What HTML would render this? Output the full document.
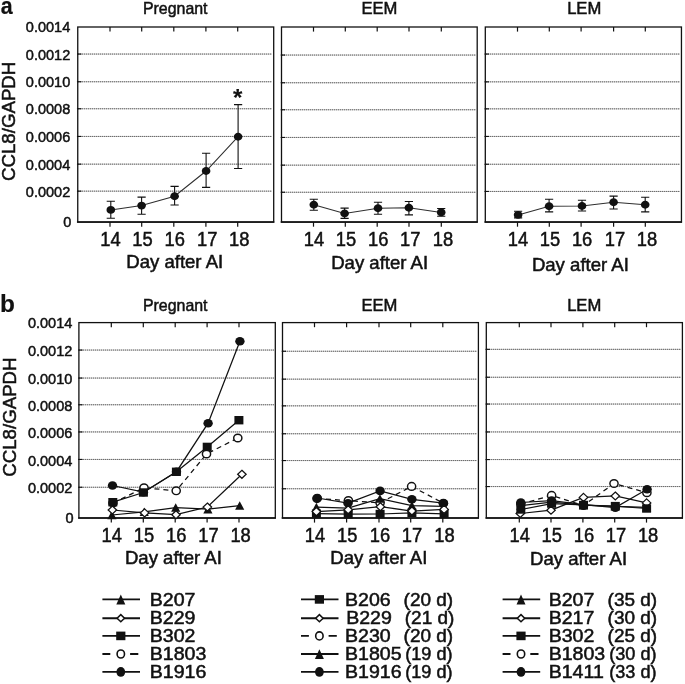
<!DOCTYPE html>
<html><head><meta charset="utf-8"><title>CCL8/GAPDH</title>
<style>
html,body{margin:0;padding:0;background:#fff;}
body{width:685px;height:684px;overflow:hidden;font-family:"Liberation Sans", sans-serif;}
svg{display:block;will-change:transform;filter:grayscale(1);font-family:"Liberation Sans", sans-serif;fill:#111111;}
text{stroke:#111111;stroke-width:0.5px;}
</style></head><body>
<svg width="685" height="684" viewBox="0 0 685 684">
<rect width="685" height="684" fill="#fff"/>
<line x1="78" y1="54.05" x2="272" y2="54.05" stroke="#b8b8b8" stroke-width="1"/>
<line x1="78" y1="54.05" x2="272" y2="54.05" stroke="#6a6a6a" stroke-width="1" stroke-dasharray="1 1"/>
<line x1="76.95" y1="54.05" x2="81.35" y2="54.05" stroke="#111111" stroke-width="1.1"/>
<line x1="78" y1="81.75" x2="272" y2="81.75" stroke="#b8b8b8" stroke-width="1"/>
<line x1="78" y1="81.75" x2="272" y2="81.75" stroke="#6a6a6a" stroke-width="1" stroke-dasharray="1 1"/>
<line x1="76.95" y1="81.75" x2="81.35" y2="81.75" stroke="#111111" stroke-width="1.1"/>
<line x1="78" y1="108.75" x2="272" y2="108.75" stroke="#b8b8b8" stroke-width="1"/>
<line x1="78" y1="108.75" x2="272" y2="108.75" stroke="#6a6a6a" stroke-width="1" stroke-dasharray="1 1"/>
<line x1="76.95" y1="108.75" x2="81.35" y2="108.75" stroke="#111111" stroke-width="1.1"/>
<line x1="78" y1="136.45" x2="272" y2="136.45" stroke="#b8b8b8" stroke-width="1"/>
<line x1="78" y1="136.45" x2="272" y2="136.45" stroke="#6a6a6a" stroke-width="1" stroke-dasharray="1 1"/>
<line x1="76.95" y1="136.45" x2="81.35" y2="136.45" stroke="#111111" stroke-width="1.1"/>
<line x1="78" y1="164.15" x2="272" y2="164.15" stroke="#b8b8b8" stroke-width="1"/>
<line x1="78" y1="164.15" x2="272" y2="164.15" stroke="#6a6a6a" stroke-width="1" stroke-dasharray="1 1"/>
<line x1="76.95" y1="164.15" x2="81.35" y2="164.15" stroke="#111111" stroke-width="1.1"/>
<line x1="78" y1="191.15" x2="272" y2="191.15" stroke="#b8b8b8" stroke-width="1"/>
<line x1="78" y1="191.15" x2="272" y2="191.15" stroke="#6a6a6a" stroke-width="1" stroke-dasharray="1 1"/>
<line x1="76.95" y1="191.15" x2="81.35" y2="191.15" stroke="#111111" stroke-width="1.1"/>
<rect x="77.75" y="27" width="195.95" height="195.1" fill="none" stroke="#111111" stroke-width="1.3"/>
<line x1="76.95" y1="222.1" x2="274.3" y2="222.1" stroke="#111111" stroke-width="1.5"/>
<line x1="110" y1="27" x2="110" y2="31.6" stroke="#111111" stroke-width="1.2"/>
<line x1="110" y1="222.1" x2="110" y2="226.7" stroke="#111111" stroke-width="1.2"/>
<line x1="141.7" y1="27" x2="141.7" y2="31.6" stroke="#111111" stroke-width="1.2"/>
<line x1="141.7" y1="222.1" x2="141.7" y2="226.7" stroke="#111111" stroke-width="1.2"/>
<line x1="173.8" y1="27" x2="173.8" y2="31.6" stroke="#111111" stroke-width="1.2"/>
<line x1="173.8" y1="222.1" x2="173.8" y2="226.7" stroke="#111111" stroke-width="1.2"/>
<line x1="205.9" y1="27" x2="205.9" y2="31.6" stroke="#111111" stroke-width="1.2"/>
<line x1="205.9" y1="222.1" x2="205.9" y2="226.7" stroke="#111111" stroke-width="1.2"/>
<line x1="237.7" y1="27" x2="237.7" y2="31.6" stroke="#111111" stroke-width="1.2"/>
<line x1="237.7" y1="222.1" x2="237.7" y2="226.7" stroke="#111111" stroke-width="1.2"/>
<line x1="282" y1="55.05" x2="476" y2="55.05" stroke="#b8b8b8" stroke-width="1"/>
<line x1="282" y1="55.05" x2="476" y2="55.05" stroke="#6a6a6a" stroke-width="1" stroke-dasharray="1 1"/>
<line x1="280.7" y1="55.05" x2="285.1" y2="55.05" stroke="#111111" stroke-width="1.1"/>
<line x1="282" y1="82.75" x2="476" y2="82.75" stroke="#b8b8b8" stroke-width="1"/>
<line x1="282" y1="82.75" x2="476" y2="82.75" stroke="#6a6a6a" stroke-width="1" stroke-dasharray="1 1"/>
<line x1="280.7" y1="82.75" x2="285.1" y2="82.75" stroke="#111111" stroke-width="1.1"/>
<line x1="282" y1="109.75" x2="476" y2="109.75" stroke="#b8b8b8" stroke-width="1"/>
<line x1="282" y1="109.75" x2="476" y2="109.75" stroke="#6a6a6a" stroke-width="1" stroke-dasharray="1 1"/>
<line x1="280.7" y1="109.75" x2="285.1" y2="109.75" stroke="#111111" stroke-width="1.1"/>
<line x1="282" y1="137.45" x2="476" y2="137.45" stroke="#b8b8b8" stroke-width="1"/>
<line x1="282" y1="137.45" x2="476" y2="137.45" stroke="#6a6a6a" stroke-width="1" stroke-dasharray="1 1"/>
<line x1="280.7" y1="137.45" x2="285.1" y2="137.45" stroke="#111111" stroke-width="1.1"/>
<line x1="282" y1="165.15" x2="476" y2="165.15" stroke="#b8b8b8" stroke-width="1"/>
<line x1="282" y1="165.15" x2="476" y2="165.15" stroke="#6a6a6a" stroke-width="1" stroke-dasharray="1 1"/>
<line x1="280.7" y1="165.15" x2="285.1" y2="165.15" stroke="#111111" stroke-width="1.1"/>
<line x1="282" y1="192.25" x2="476" y2="192.25" stroke="#b8b8b8" stroke-width="1"/>
<line x1="282" y1="192.25" x2="476" y2="192.25" stroke="#6a6a6a" stroke-width="1" stroke-dasharray="1 1"/>
<line x1="280.7" y1="192.25" x2="285.1" y2="192.25" stroke="#111111" stroke-width="1.1"/>
<rect x="281.5" y="27" width="195.7" height="195.1" fill="none" stroke="#111111" stroke-width="1.3"/>
<line x1="280.7" y1="222.1" x2="477.8" y2="222.1" stroke="#111111" stroke-width="1.5"/>
<line x1="313.5" y1="27" x2="313.5" y2="31.6" stroke="#111111" stroke-width="1.2"/>
<line x1="313.5" y1="222.1" x2="313.5" y2="226.7" stroke="#111111" stroke-width="1.2"/>
<line x1="345.3" y1="27" x2="345.3" y2="31.6" stroke="#111111" stroke-width="1.2"/>
<line x1="345.3" y1="222.1" x2="345.3" y2="226.7" stroke="#111111" stroke-width="1.2"/>
<line x1="377.2" y1="27" x2="377.2" y2="31.6" stroke="#111111" stroke-width="1.2"/>
<line x1="377.2" y1="222.1" x2="377.2" y2="226.7" stroke="#111111" stroke-width="1.2"/>
<line x1="409" y1="27" x2="409" y2="31.6" stroke="#111111" stroke-width="1.2"/>
<line x1="409" y1="222.1" x2="409" y2="226.7" stroke="#111111" stroke-width="1.2"/>
<line x1="441.3" y1="27" x2="441.3" y2="31.6" stroke="#111111" stroke-width="1.2"/>
<line x1="441.3" y1="222.1" x2="441.3" y2="226.7" stroke="#111111" stroke-width="1.2"/>
<line x1="486" y1="54.05" x2="680" y2="54.05" stroke="#b8b8b8" stroke-width="1"/>
<line x1="486" y1="54.05" x2="680" y2="54.05" stroke="#6a6a6a" stroke-width="1" stroke-dasharray="1 1"/>
<line x1="484.5" y1="54.05" x2="488.9" y2="54.05" stroke="#111111" stroke-width="1.1"/>
<line x1="486" y1="81.85" x2="680" y2="81.85" stroke="#b8b8b8" stroke-width="1"/>
<line x1="486" y1="81.85" x2="680" y2="81.85" stroke="#6a6a6a" stroke-width="1" stroke-dasharray="1 1"/>
<line x1="484.5" y1="81.85" x2="488.9" y2="81.85" stroke="#111111" stroke-width="1.1"/>
<line x1="486" y1="108.85" x2="680" y2="108.85" stroke="#b8b8b8" stroke-width="1"/>
<line x1="486" y1="108.85" x2="680" y2="108.85" stroke="#6a6a6a" stroke-width="1" stroke-dasharray="1 1"/>
<line x1="484.5" y1="108.85" x2="488.9" y2="108.85" stroke="#111111" stroke-width="1.1"/>
<line x1="486" y1="136.45" x2="680" y2="136.45" stroke="#b8b8b8" stroke-width="1"/>
<line x1="486" y1="136.45" x2="680" y2="136.45" stroke="#6a6a6a" stroke-width="1" stroke-dasharray="1 1"/>
<line x1="484.5" y1="136.45" x2="488.9" y2="136.45" stroke="#111111" stroke-width="1.1"/>
<line x1="486" y1="164.25" x2="680" y2="164.25" stroke="#b8b8b8" stroke-width="1"/>
<line x1="486" y1="164.25" x2="680" y2="164.25" stroke="#6a6a6a" stroke-width="1" stroke-dasharray="1 1"/>
<line x1="484.5" y1="164.25" x2="488.9" y2="164.25" stroke="#111111" stroke-width="1.1"/>
<line x1="486" y1="191.45" x2="680" y2="191.45" stroke="#b8b8b8" stroke-width="1"/>
<line x1="486" y1="191.45" x2="680" y2="191.45" stroke="#6a6a6a" stroke-width="1" stroke-dasharray="1 1"/>
<line x1="484.5" y1="191.45" x2="488.9" y2="191.45" stroke="#111111" stroke-width="1.1"/>
<rect x="485.3" y="27" width="196.15" height="195.1" fill="none" stroke="#111111" stroke-width="1.3"/>
<line x1="484.5" y1="222.1" x2="682.05" y2="222.1" stroke="#111111" stroke-width="1.5"/>
<line x1="517.5" y1="27" x2="517.5" y2="31.6" stroke="#111111" stroke-width="1.2"/>
<line x1="517.5" y1="222.1" x2="517.5" y2="226.7" stroke="#111111" stroke-width="1.2"/>
<line x1="549.3" y1="27" x2="549.3" y2="31.6" stroke="#111111" stroke-width="1.2"/>
<line x1="549.3" y1="222.1" x2="549.3" y2="226.7" stroke="#111111" stroke-width="1.2"/>
<line x1="581.1" y1="27" x2="581.1" y2="31.6" stroke="#111111" stroke-width="1.2"/>
<line x1="581.1" y1="222.1" x2="581.1" y2="226.7" stroke="#111111" stroke-width="1.2"/>
<line x1="613.6" y1="27" x2="613.6" y2="31.6" stroke="#111111" stroke-width="1.2"/>
<line x1="613.6" y1="222.1" x2="613.6" y2="226.7" stroke="#111111" stroke-width="1.2"/>
<line x1="645.3" y1="27" x2="645.3" y2="31.6" stroke="#111111" stroke-width="1.2"/>
<line x1="645.3" y1="222.1" x2="645.3" y2="226.7" stroke="#111111" stroke-width="1.2"/>
<polyline points="110.8,209.9 141.6,205.6 174.6,196.2 206.1,171 238.1,136.7" fill="none" stroke="#2e2e2e" stroke-width="1.05"/>
<path d="M110.8 201.3V218.2M106.7 201.3H114.9M106.7 218.2H114.9" stroke="#111111" stroke-width="1.1" fill="none"/>
<ellipse cx="110.8" cy="209.9" rx="4.31" ry="3.95" fill="#111111"/>
<path d="M141.6 197.1V214.2M137.5 197.1H145.7M137.5 214.2H145.7" stroke="#111111" stroke-width="1.1" fill="none"/>
<ellipse cx="141.6" cy="205.6" rx="4.31" ry="3.95" fill="#111111"/>
<path d="M174.6 186.4V205M170.5 186.4H178.7M170.5 205H178.7" stroke="#111111" stroke-width="1.1" fill="none"/>
<ellipse cx="174.6" cy="196.2" rx="4.31" ry="3.95" fill="#111111"/>
<path d="M206.1 153.3V187.4M202 153.3H210.2M202 187.4H210.2" stroke="#111111" stroke-width="1.1" fill="none"/>
<ellipse cx="206.1" cy="171" rx="4.31" ry="3.95" fill="#111111"/>
<path d="M238.1 104.6V168.5M234 104.6H242.2M234 168.5H242.2" stroke="#111111" stroke-width="1.1" fill="none"/>
<ellipse cx="238.1" cy="136.7" rx="4.31" ry="3.95" fill="#111111"/>
<polyline points="313.8,204.7 344.6,213.5 378,208.2 408.9,207.7 441.2,212.4" fill="none" stroke="#2e2e2e" stroke-width="1.05"/>
<path d="M313.8 199.3V210.3M309.7 199.3H317.9M309.7 210.3H317.9" stroke="#111111" stroke-width="1.1" fill="none"/>
<ellipse cx="313.8" cy="204.7" rx="4.31" ry="3.95" fill="#111111"/>
<path d="M344.6 208.1V218.4M340.5 208.1H348.7M340.5 218.4H348.7" stroke="#111111" stroke-width="1.1" fill="none"/>
<ellipse cx="344.6" cy="213.5" rx="4.31" ry="3.95" fill="#111111"/>
<path d="M378 202.3V214.2M373.9 202.3H382.1M373.9 214.2H382.1" stroke="#111111" stroke-width="1.1" fill="none"/>
<ellipse cx="378" cy="208.2" rx="4.31" ry="3.95" fill="#111111"/>
<path d="M408.9 201.5V214.9M404.8 201.5H413M404.8 214.9H413" stroke="#111111" stroke-width="1.1" fill="none"/>
<ellipse cx="408.9" cy="207.7" rx="4.31" ry="3.95" fill="#111111"/>
<path d="M441.2 208.5V216.2M437.1 208.5H445.3M437.1 216.2H445.3" stroke="#111111" stroke-width="1.1" fill="none"/>
<ellipse cx="441.2" cy="212.4" rx="4.31" ry="3.95" fill="#111111"/>
<polyline points="518.1,214.9 549.1,206.2 582,206 613.6,202.3 645.2,204.7" fill="none" stroke="#2e2e2e" stroke-width="1.05"/>
<path d="M518.1 211.2V217.9M514 211.2H522.2M514 217.9H522.2" stroke="#111111" stroke-width="1.1" fill="none"/>
<ellipse cx="518.1" cy="214.9" rx="4.31" ry="3.95" fill="#111111"/>
<path d="M549.1 199.3V211.9M545 199.3H553.2M545 211.9H553.2" stroke="#111111" stroke-width="1.1" fill="none"/>
<ellipse cx="549.1" cy="206.2" rx="4.31" ry="3.95" fill="#111111"/>
<path d="M582 200.3V211M577.9 200.3H586.1M577.9 211H586.1" stroke="#111111" stroke-width="1.1" fill="none"/>
<ellipse cx="582" cy="206" rx="4.31" ry="3.95" fill="#111111"/>
<path d="M613.6 196.1V209M609.5 196.1H617.7M609.5 209H617.7" stroke="#111111" stroke-width="1.1" fill="none"/>
<ellipse cx="613.6" cy="202.3" rx="4.31" ry="3.95" fill="#111111"/>
<path d="M645.2 197.3V211.9M641.1 197.3H649.3M641.1 211.9H649.3" stroke="#111111" stroke-width="1.1" fill="none"/>
<ellipse cx="645.2" cy="204.7" rx="4.31" ry="3.95" fill="#111111"/>
<text x="0" y="0" font-size="14.9" text-anchor="end" font-weight="normal" transform="translate(70.25 31.8) scale(0.975 1)">0.0014</text>
<text x="0" y="0" font-size="14.9" text-anchor="end" font-weight="normal" transform="translate(70.25 59.7) scale(0.975 1)">0.0012</text>
<text x="0" y="0" font-size="14.9" text-anchor="end" font-weight="normal" transform="translate(70.25 87.4) scale(0.975 1)">0.0010</text>
<text x="0" y="0" font-size="14.9" text-anchor="end" font-weight="normal" transform="translate(70.25 114.4) scale(0.975 1)">0.0008</text>
<text x="0" y="0" font-size="14.9" text-anchor="end" font-weight="normal" transform="translate(70.25 142.1) scale(0.975 1)">0.0006</text>
<text x="0" y="0" font-size="14.9" text-anchor="end" font-weight="normal" transform="translate(70.25 169.8) scale(0.975 1)">0.0004</text>
<text x="0" y="0" font-size="14.9" text-anchor="end" font-weight="normal" transform="translate(70.25 196.8) scale(0.975 1)">0.0002</text>
<text x="0" y="0" font-size="14.9" text-anchor="end" font-weight="normal" transform="translate(71.45 226.7) scale(0.975 1)">0</text>
<text x="0" y="0" font-size="19.4" text-anchor="middle" font-weight="normal" transform="translate(110.4 246.4) scale(0.945 1)">14</text>
<text x="0" y="0" font-size="19.4" text-anchor="middle" font-weight="normal" transform="translate(142.4 246.4) scale(0.945 1)">15</text>
<text x="0" y="0" font-size="19.4" text-anchor="middle" font-weight="normal" transform="translate(174.8 246.4) scale(0.945 1)">16</text>
<text x="0" y="0" font-size="19.4" text-anchor="middle" font-weight="normal" transform="translate(207.2 246.4) scale(0.945 1)">17</text>
<text x="0" y="0" font-size="19.4" text-anchor="middle" font-weight="normal" transform="translate(239.3 246.4) scale(0.945 1)">18</text>
<text x="0" y="0" font-size="17.7" text-anchor="middle" font-weight="normal" transform="translate(174.72 268.2) scale(1.05 1)">Day after AI</text>
<text x="0" y="0" font-size="19.4" text-anchor="middle" font-weight="normal" transform="translate(313.9 246.4) scale(0.945 1)">14</text>
<text x="0" y="0" font-size="19.4" text-anchor="middle" font-weight="normal" transform="translate(346 246.4) scale(0.945 1)">15</text>
<text x="0" y="0" font-size="19.4" text-anchor="middle" font-weight="normal" transform="translate(378.2 246.4) scale(0.945 1)">16</text>
<text x="0" y="0" font-size="19.4" text-anchor="middle" font-weight="normal" transform="translate(410.3 246.4) scale(0.945 1)">17</text>
<text x="0" y="0" font-size="19.4" text-anchor="middle" font-weight="normal" transform="translate(442.9 246.4) scale(0.945 1)">18</text>
<text x="0" y="0" font-size="17.7" text-anchor="middle" font-weight="normal" transform="translate(379.65 268.8) scale(1.05 1)">Day after AI</text>
<text x="0" y="0" font-size="19.4" text-anchor="middle" font-weight="normal" transform="translate(517.9 246.4) scale(0.945 1)">14</text>
<text x="0" y="0" font-size="19.4" text-anchor="middle" font-weight="normal" transform="translate(550 246.4) scale(0.945 1)">15</text>
<text x="0" y="0" font-size="19.4" text-anchor="middle" font-weight="normal" transform="translate(582.1 246.4) scale(0.945 1)">16</text>
<text x="0" y="0" font-size="19.4" text-anchor="middle" font-weight="normal" transform="translate(614.9 246.4) scale(0.945 1)">17</text>
<text x="0" y="0" font-size="19.4" text-anchor="middle" font-weight="normal" transform="translate(646.9 246.4) scale(0.945 1)">18</text>
<text x="0" y="0" font-size="17.7" text-anchor="middle" font-weight="normal" transform="translate(580.38 271) scale(1.05 1)">Day after AI</text>
<text x="0" y="0" font-size="16.6" text-anchor="middle" font-weight="normal" transform="translate(175.2 13.8) scale(0.96 1)">Pregnant</text>
<text x="379.4" y="13.8" font-size="16.6" text-anchor="middle" font-weight="normal">EEM</text>
<text x="584.2" y="13.8" font-size="16.6" text-anchor="middle" font-weight="normal">LEM</text>
<text font-size="18.7" text-anchor="middle" transform="translate(15.05 121.35) rotate(-90)">CCL8/GAPDH</text>
<text x="0" y="0" font-size="24.6" text-anchor="middle" font-weight="bold" transform="translate(6.7 14.2) scale(0.87 1)" style="stroke-width:0.2px">a</text>
<text x="237.75" y="106.3" font-size="24" text-anchor="middle" font-weight="bold" style="stroke-width:0.15px">*</text>
<line x1="79" y1="350.05" x2="274" y2="350.05" stroke="#b8b8b8" stroke-width="1"/>
<line x1="79" y1="350.05" x2="274" y2="350.05" stroke="#6a6a6a" stroke-width="1" stroke-dasharray="1 1"/>
<line x1="78.1" y1="350.05" x2="82.5" y2="350.05" stroke="#111111" stroke-width="1.1"/>
<line x1="79" y1="378.05" x2="274" y2="378.05" stroke="#b8b8b8" stroke-width="1"/>
<line x1="79" y1="378.05" x2="274" y2="378.05" stroke="#6a6a6a" stroke-width="1" stroke-dasharray="1 1"/>
<line x1="78.1" y1="378.05" x2="82.5" y2="378.05" stroke="#111111" stroke-width="1.1"/>
<line x1="79" y1="404.75" x2="274" y2="404.75" stroke="#b8b8b8" stroke-width="1"/>
<line x1="79" y1="404.75" x2="274" y2="404.75" stroke="#6a6a6a" stroke-width="1" stroke-dasharray="1 1"/>
<line x1="78.1" y1="404.75" x2="82.5" y2="404.75" stroke="#111111" stroke-width="1.1"/>
<line x1="79" y1="431.95" x2="274" y2="431.95" stroke="#b8b8b8" stroke-width="1"/>
<line x1="79" y1="431.95" x2="274" y2="431.95" stroke="#6a6a6a" stroke-width="1" stroke-dasharray="1 1"/>
<line x1="78.1" y1="431.95" x2="82.5" y2="431.95" stroke="#111111" stroke-width="1.1"/>
<line x1="79" y1="459.45" x2="274" y2="459.45" stroke="#b8b8b8" stroke-width="1"/>
<line x1="79" y1="459.45" x2="274" y2="459.45" stroke="#6a6a6a" stroke-width="1" stroke-dasharray="1 1"/>
<line x1="78.1" y1="459.45" x2="82.5" y2="459.45" stroke="#111111" stroke-width="1.1"/>
<line x1="79" y1="487.25" x2="274" y2="487.25" stroke="#b8b8b8" stroke-width="1"/>
<line x1="79" y1="487.25" x2="274" y2="487.25" stroke="#6a6a6a" stroke-width="1" stroke-dasharray="1 1"/>
<line x1="78.1" y1="487.25" x2="82.5" y2="487.25" stroke="#111111" stroke-width="1.1"/>
<rect x="78.9" y="322.6" width="196.4" height="195.4" fill="none" stroke="#111111" stroke-width="1.3"/>
<line x1="78.1" y1="518" x2="275.9" y2="518" stroke="#111111" stroke-width="1.5"/>
<line x1="111.3" y1="322.6" x2="111.3" y2="327.2" stroke="#111111" stroke-width="1.2"/>
<line x1="111.3" y1="518" x2="111.3" y2="522.6" stroke="#111111" stroke-width="1.2"/>
<line x1="143.3" y1="322.6" x2="143.3" y2="327.2" stroke="#111111" stroke-width="1.2"/>
<line x1="143.3" y1="518" x2="143.3" y2="522.6" stroke="#111111" stroke-width="1.2"/>
<line x1="175.2" y1="322.6" x2="175.2" y2="327.2" stroke="#111111" stroke-width="1.2"/>
<line x1="175.2" y1="518" x2="175.2" y2="522.6" stroke="#111111" stroke-width="1.2"/>
<line x1="207.1" y1="322.6" x2="207.1" y2="327.2" stroke="#111111" stroke-width="1.2"/>
<line x1="207.1" y1="518" x2="207.1" y2="522.6" stroke="#111111" stroke-width="1.2"/>
<line x1="239" y1="322.6" x2="239" y2="327.2" stroke="#111111" stroke-width="1.2"/>
<line x1="239" y1="518" x2="239" y2="522.6" stroke="#111111" stroke-width="1.2"/>
<line x1="283" y1="351.25" x2="477" y2="351.25" stroke="#b8b8b8" stroke-width="1"/>
<line x1="283" y1="351.25" x2="477" y2="351.25" stroke="#6a6a6a" stroke-width="1" stroke-dasharray="1 1"/>
<line x1="281.7" y1="351.25" x2="286.1" y2="351.25" stroke="#111111" stroke-width="1.1"/>
<line x1="283" y1="379.15" x2="477" y2="379.15" stroke="#b8b8b8" stroke-width="1"/>
<line x1="283" y1="379.15" x2="477" y2="379.15" stroke="#6a6a6a" stroke-width="1" stroke-dasharray="1 1"/>
<line x1="281.7" y1="379.15" x2="286.1" y2="379.15" stroke="#111111" stroke-width="1.1"/>
<line x1="283" y1="405.85" x2="477" y2="405.85" stroke="#b8b8b8" stroke-width="1"/>
<line x1="283" y1="405.85" x2="477" y2="405.85" stroke="#6a6a6a" stroke-width="1" stroke-dasharray="1 1"/>
<line x1="281.7" y1="405.85" x2="286.1" y2="405.85" stroke="#111111" stroke-width="1.1"/>
<line x1="283" y1="433.75" x2="477" y2="433.75" stroke="#b8b8b8" stroke-width="1"/>
<line x1="283" y1="433.75" x2="477" y2="433.75" stroke="#6a6a6a" stroke-width="1" stroke-dasharray="1 1"/>
<line x1="281.7" y1="433.75" x2="286.1" y2="433.75" stroke="#111111" stroke-width="1.1"/>
<line x1="283" y1="460.55" x2="477" y2="460.55" stroke="#b8b8b8" stroke-width="1"/>
<line x1="283" y1="460.55" x2="477" y2="460.55" stroke="#6a6a6a" stroke-width="1" stroke-dasharray="1 1"/>
<line x1="281.7" y1="460.55" x2="286.1" y2="460.55" stroke="#111111" stroke-width="1.1"/>
<line x1="283" y1="488.75" x2="477" y2="488.75" stroke="#b8b8b8" stroke-width="1"/>
<line x1="283" y1="488.75" x2="477" y2="488.75" stroke="#6a6a6a" stroke-width="1" stroke-dasharray="1 1"/>
<line x1="281.7" y1="488.75" x2="286.1" y2="488.75" stroke="#111111" stroke-width="1.1"/>
<rect x="282.5" y="322.6" width="195.9" height="195.4" fill="none" stroke="#111111" stroke-width="1.3"/>
<line x1="281.7" y1="518" x2="479" y2="518" stroke="#111111" stroke-width="1.5"/>
<line x1="314.5" y1="322.6" x2="314.5" y2="327.2" stroke="#111111" stroke-width="1.2"/>
<line x1="314.5" y1="518" x2="314.5" y2="522.6" stroke="#111111" stroke-width="1.2"/>
<line x1="346.6" y1="322.6" x2="346.6" y2="327.2" stroke="#111111" stroke-width="1.2"/>
<line x1="346.6" y1="518" x2="346.6" y2="522.6" stroke="#111111" stroke-width="1.2"/>
<line x1="379" y1="322.6" x2="379" y2="327.2" stroke="#111111" stroke-width="1.2"/>
<line x1="379" y1="518" x2="379" y2="522.6" stroke="#111111" stroke-width="1.2"/>
<line x1="410.7" y1="322.6" x2="410.7" y2="327.2" stroke="#111111" stroke-width="1.2"/>
<line x1="410.7" y1="518" x2="410.7" y2="522.6" stroke="#111111" stroke-width="1.2"/>
<line x1="442.8" y1="322.6" x2="442.8" y2="327.2" stroke="#111111" stroke-width="1.2"/>
<line x1="442.8" y1="518" x2="442.8" y2="522.6" stroke="#111111" stroke-width="1.2"/>
<line x1="487" y1="349.35" x2="681" y2="349.35" stroke="#b8b8b8" stroke-width="1"/>
<line x1="487" y1="349.35" x2="681" y2="349.35" stroke="#6a6a6a" stroke-width="1" stroke-dasharray="1 1"/>
<line x1="485.5" y1="349.35" x2="489.9" y2="349.35" stroke="#111111" stroke-width="1.1"/>
<line x1="487" y1="377.25" x2="681" y2="377.25" stroke="#b8b8b8" stroke-width="1"/>
<line x1="487" y1="377.25" x2="681" y2="377.25" stroke="#6a6a6a" stroke-width="1" stroke-dasharray="1 1"/>
<line x1="485.5" y1="377.25" x2="489.9" y2="377.25" stroke="#111111" stroke-width="1.1"/>
<line x1="487" y1="404.05" x2="681" y2="404.05" stroke="#b8b8b8" stroke-width="1"/>
<line x1="487" y1="404.05" x2="681" y2="404.05" stroke="#6a6a6a" stroke-width="1" stroke-dasharray="1 1"/>
<line x1="485.5" y1="404.05" x2="489.9" y2="404.05" stroke="#111111" stroke-width="1.1"/>
<line x1="487" y1="431.95" x2="681" y2="431.95" stroke="#b8b8b8" stroke-width="1"/>
<line x1="487" y1="431.95" x2="681" y2="431.95" stroke="#6a6a6a" stroke-width="1" stroke-dasharray="1 1"/>
<line x1="485.5" y1="431.95" x2="489.9" y2="431.95" stroke="#111111" stroke-width="1.1"/>
<line x1="487" y1="459.55" x2="681" y2="459.55" stroke="#b8b8b8" stroke-width="1"/>
<line x1="487" y1="459.55" x2="681" y2="459.55" stroke="#6a6a6a" stroke-width="1" stroke-dasharray="1 1"/>
<line x1="485.5" y1="459.55" x2="489.9" y2="459.55" stroke="#111111" stroke-width="1.1"/>
<line x1="487" y1="486.55" x2="681" y2="486.55" stroke="#b8b8b8" stroke-width="1"/>
<line x1="487" y1="486.55" x2="681" y2="486.55" stroke="#6a6a6a" stroke-width="1" stroke-dasharray="1 1"/>
<line x1="485.5" y1="486.55" x2="489.9" y2="486.55" stroke="#111111" stroke-width="1.1"/>
<rect x="486.3" y="322.6" width="196.1" height="195.4" fill="none" stroke="#111111" stroke-width="1.3"/>
<line x1="485.5" y1="518" x2="683" y2="518" stroke="#111111" stroke-width="1.5"/>
<line x1="519.3" y1="322.6" x2="519.3" y2="327.2" stroke="#111111" stroke-width="1.2"/>
<line x1="519.3" y1="518" x2="519.3" y2="522.6" stroke="#111111" stroke-width="1.2"/>
<line x1="551" y1="322.6" x2="551" y2="327.2" stroke="#111111" stroke-width="1.2"/>
<line x1="551" y1="518" x2="551" y2="522.6" stroke="#111111" stroke-width="1.2"/>
<line x1="582.9" y1="322.6" x2="582.9" y2="327.2" stroke="#111111" stroke-width="1.2"/>
<line x1="582.9" y1="518" x2="582.9" y2="522.6" stroke="#111111" stroke-width="1.2"/>
<line x1="614.7" y1="322.6" x2="614.7" y2="327.2" stroke="#111111" stroke-width="1.2"/>
<line x1="614.7" y1="518" x2="614.7" y2="522.6" stroke="#111111" stroke-width="1.2"/>
<line x1="646.5" y1="322.6" x2="646.5" y2="327.2" stroke="#111111" stroke-width="1.2"/>
<line x1="646.5" y1="518" x2="646.5" y2="522.6" stroke="#111111" stroke-width="1.2"/>
<polyline points="112.5,485.5 143.4,492.2 176.5,471.7 208.1,423.2 239.9,341.2" fill="none" stroke="#111111" stroke-width="1.25"/>
<ellipse cx="112.5" cy="485.5" rx="4.69" ry="4.3" fill="#111111"/>
<ellipse cx="143.4" cy="492.2" rx="4.69" ry="4.3" fill="#111111"/>
<ellipse cx="176.5" cy="471.7" rx="4.69" ry="4.3" fill="#111111"/>
<ellipse cx="208.1" cy="423.2" rx="4.69" ry="4.3" fill="#111111"/>
<ellipse cx="239.9" cy="341.2" rx="4.69" ry="4.3" fill="#111111"/>
<polyline points="113,503 144,487.8 176.2,490.8 206.5,454 237.8,438" fill="none" stroke="#111111" stroke-width="1.25" stroke-dasharray="5 4"/>
<ellipse cx="113" cy="503" rx="4.1" ry="3.82" fill="#fff" stroke="#111111" stroke-width="1.45"/>
<ellipse cx="144" cy="487.8" rx="4.1" ry="3.82" fill="#fff" stroke="#111111" stroke-width="1.45"/>
<ellipse cx="176.2" cy="490.8" rx="4.1" ry="3.82" fill="#fff" stroke="#111111" stroke-width="1.45"/>
<ellipse cx="206.5" cy="454" rx="4.1" ry="3.82" fill="#fff" stroke="#111111" stroke-width="1.45"/>
<ellipse cx="237.8" cy="438" rx="4.1" ry="3.82" fill="#fff" stroke="#111111" stroke-width="1.45"/>
<polyline points="112.8,502.2 143.4,492.5 176.4,471.8 207.2,446.9 238.9,420.2" fill="none" stroke="#111111" stroke-width="1.25"/>
<rect x="108.31" y="498" width="8.99" height="8.4" fill="#111111"/>
<rect x="138.91" y="488.3" width="8.99" height="8.4" fill="#111111"/>
<rect x="171.91" y="467.6" width="8.99" height="8.4" fill="#111111"/>
<rect x="202.71" y="442.7" width="8.99" height="8.4" fill="#111111"/>
<rect x="234.41" y="416" width="8.99" height="8.4" fill="#111111"/>
<polyline points="111.9,515 144.2,511.9 175.7,507.6 207.9,509.2 239.7,505.6" fill="none" stroke="#111111" stroke-width="1.25"/>
<path d="M111.9 510.6L116.48 519.18L107.32 519.18Z" fill="#111111"/>
<path d="M144.2 507.5L148.78 516.08L139.62 516.08Z" fill="#111111"/>
<path d="M175.7 503.2L180.28 511.78L171.12 511.78Z" fill="#111111"/>
<path d="M207.9 504.8L212.48 513.38L203.32 513.38Z" fill="#111111"/>
<path d="M239.7 501.2L244.28 509.78L235.12 509.78Z" fill="#111111"/>
<polyline points="112.4,510 144.6,512.9 176,514.7 207.4,507 241.9,474.3" fill="none" stroke="#111111" stroke-width="1.25"/>
<path d="M112.4 506L116.64 510L112.4 514L108.16 510Z" fill="#fff" stroke="#111111" stroke-width="1.25"/>
<path d="M144.6 508.9L148.84 512.9L144.6 516.9L140.36 512.9Z" fill="#fff" stroke="#111111" stroke-width="1.25"/>
<path d="M176 510.7L180.24 514.7L176 518.7L171.76 514.7Z" fill="#fff" stroke="#111111" stroke-width="1.25"/>
<path d="M207.4 503L211.64 507L207.4 511L203.16 507Z" fill="#fff" stroke="#111111" stroke-width="1.25"/>
<path d="M241.9 470.3L246.14 474.3L241.9 478.3L237.66 474.3Z" fill="#fff" stroke="#111111" stroke-width="1.25"/>
<polyline points="317,498.6 348.4,500.6 380.1,502.8 411.6,486.4 443.4,503.2" fill="none" stroke="#111111" stroke-width="1.25" stroke-dasharray="5 4"/>
<ellipse cx="317" cy="498.6" rx="4.1" ry="3.82" fill="#fff" stroke="#111111" stroke-width="1.45"/>
<ellipse cx="348.4" cy="500.6" rx="4.1" ry="3.82" fill="#fff" stroke="#111111" stroke-width="1.45"/>
<ellipse cx="380.1" cy="502.8" rx="4.1" ry="3.82" fill="#fff" stroke="#111111" stroke-width="1.45"/>
<ellipse cx="411.6" cy="486.4" rx="4.1" ry="3.82" fill="#fff" stroke="#111111" stroke-width="1.45"/>
<ellipse cx="443.4" cy="503.2" rx="4.1" ry="3.82" fill="#fff" stroke="#111111" stroke-width="1.45"/>
<polyline points="317.3,498 348,503.2 380.1,490.9 411.9,499.3 443.4,503.2" fill="none" stroke="#111111" stroke-width="1.25"/>
<ellipse cx="317.3" cy="498" rx="4.69" ry="4.3" fill="#111111"/>
<ellipse cx="348" cy="503.2" rx="4.69" ry="4.3" fill="#111111"/>
<ellipse cx="380.1" cy="490.9" rx="4.69" ry="4.3" fill="#111111"/>
<ellipse cx="411.9" cy="499.3" rx="4.69" ry="4.3" fill="#111111"/>
<ellipse cx="443.4" cy="503.2" rx="4.69" ry="4.3" fill="#111111"/>
<polyline points="316.4,507.2 348,508 379.9,498.6 411.9,505.6 443.5,506.4" fill="none" stroke="#111111" stroke-width="1.25"/>
<path d="M316.4 502.8L320.98 511.38L311.82 511.38Z" fill="#111111"/>
<path d="M348 503.6L352.58 512.18L343.42 512.18Z" fill="#111111"/>
<path d="M379.9 494.2L384.48 502.78L375.32 502.78Z" fill="#111111"/>
<path d="M411.9 501.2L416.48 509.78L407.32 509.78Z" fill="#111111"/>
<path d="M443.5 502L448.08 510.58L438.92 510.58Z" fill="#111111"/>
<polyline points="316.4,513.6 348.2,514.2 380.1,514 411.9,512.8 444.1,513.8" fill="none" stroke="#111111" stroke-width="1.25"/>
<rect x="311.91" y="509.4" width="8.99" height="8.4" fill="#111111"/>
<rect x="343.71" y="510" width="8.99" height="8.4" fill="#111111"/>
<rect x="375.61" y="509.8" width="8.99" height="8.4" fill="#111111"/>
<rect x="407.41" y="508.6" width="8.99" height="8.4" fill="#111111"/>
<rect x="439.61" y="509.6" width="8.99" height="8.4" fill="#111111"/>
<polyline points="316.4,511.6 348.2,509.8 380.4,506.7 411.9,511 444.1,509.4" fill="none" stroke="#111111" stroke-width="1.25"/>
<path d="M316.4 507.6L320.64 511.6L316.4 515.6L312.16 511.6Z" fill="#fff" stroke="#111111" stroke-width="1.25"/>
<path d="M348.2 505.8L352.44 509.8L348.2 513.8L343.96 509.8Z" fill="#fff" stroke="#111111" stroke-width="1.25"/>
<path d="M380.4 502.7L384.64 506.7L380.4 510.7L376.16 506.7Z" fill="#fff" stroke="#111111" stroke-width="1.25"/>
<path d="M411.9 507L416.14 511L411.9 515L407.66 511Z" fill="#fff" stroke="#111111" stroke-width="1.25"/>
<path d="M444.1 505.4L448.34 509.4L444.1 513.4L439.86 509.4Z" fill="#fff" stroke="#111111" stroke-width="1.25"/>
<polyline points="520.8,504 551.6,495.4 583.5,505.4 614,483.5 646.9,492.7" fill="none" stroke="#111111" stroke-width="1.25" stroke-dasharray="5 4"/>
<ellipse cx="520.8" cy="504" rx="4.1" ry="3.82" fill="#fff" stroke="#111111" stroke-width="1.45"/>
<ellipse cx="551.6" cy="495.4" rx="4.1" ry="3.82" fill="#fff" stroke="#111111" stroke-width="1.45"/>
<ellipse cx="583.5" cy="505.4" rx="4.1" ry="3.82" fill="#fff" stroke="#111111" stroke-width="1.45"/>
<ellipse cx="614" cy="483.5" rx="4.1" ry="3.82" fill="#fff" stroke="#111111" stroke-width="1.45"/>
<ellipse cx="646.9" cy="492.7" rx="4.1" ry="3.82" fill="#fff" stroke="#111111" stroke-width="1.45"/>
<polyline points="520.8,505.6 551.6,502.2 583.4,505.2 615.2,506.4 646.6,507.4" fill="none" stroke="#111111" stroke-width="1.25"/>
<path d="M520.8 501.2L525.38 509.78L516.22 509.78Z" fill="#111111"/>
<path d="M551.6 497.8L556.18 506.38L547.02 506.38Z" fill="#111111"/>
<path d="M583.4 500.8L587.98 509.38L578.82 509.38Z" fill="#111111"/>
<path d="M615.2 502L619.78 510.58L610.62 510.58Z" fill="#111111"/>
<path d="M646.6 503L651.18 511.58L642.02 511.58Z" fill="#111111"/>
<polyline points="520.3,513.5 551,510.2 583.5,497.4 615.3,496 646.6,502.9" fill="none" stroke="#111111" stroke-width="1.25"/>
<path d="M520.3 509.5L524.54 513.5L520.3 517.5L516.06 513.5Z" fill="#fff" stroke="#111111" stroke-width="1.25"/>
<path d="M551 506.2L555.24 510.2L551 514.2L546.76 510.2Z" fill="#fff" stroke="#111111" stroke-width="1.25"/>
<path d="M583.5 493.4L587.74 497.4L583.5 501.4L579.26 497.4Z" fill="#fff" stroke="#111111" stroke-width="1.25"/>
<path d="M615.3 492L619.54 496L615.3 500L611.06 496Z" fill="#fff" stroke="#111111" stroke-width="1.25"/>
<path d="M646.6 498.9L650.84 502.9L646.6 506.9L642.36 502.9Z" fill="#fff" stroke="#111111" stroke-width="1.25"/>
<polyline points="520.8,509.5 551.6,503.6 583.5,505 615.3,506.1 646.6,508.5" fill="none" stroke="#111111" stroke-width="1.25"/>
<rect x="516.31" y="505.3" width="8.99" height="8.4" fill="#111111"/>
<rect x="547.11" y="499.4" width="8.99" height="8.4" fill="#111111"/>
<rect x="579.01" y="500.8" width="8.99" height="8.4" fill="#111111"/>
<rect x="610.81" y="501.9" width="8.99" height="8.4" fill="#111111"/>
<rect x="642.11" y="504.3" width="8.99" height="8.4" fill="#111111"/>
<polyline points="520.8,502.5 551.6,500.6 583.4,504.6 615.3,507.6 647.1,489.2" fill="none" stroke="#111111" stroke-width="1.25"/>
<ellipse cx="520.8" cy="502.5" rx="4.69" ry="4.3" fill="#111111"/>
<ellipse cx="551.6" cy="500.6" rx="4.69" ry="4.3" fill="#111111"/>
<ellipse cx="583.4" cy="504.6" rx="4.69" ry="4.3" fill="#111111"/>
<ellipse cx="615.3" cy="507.6" rx="4.69" ry="4.3" fill="#111111"/>
<ellipse cx="647.1" cy="489.2" rx="4.69" ry="4.3" fill="#111111"/>
<text x="0" y="0" font-size="14.9" text-anchor="end" font-weight="normal" transform="translate(72.3 327.8) scale(0.975 1)">0.0014</text>
<text x="0" y="0" font-size="14.9" text-anchor="end" font-weight="normal" transform="translate(72.3 356.1) scale(0.975 1)">0.0012</text>
<text x="0" y="0" font-size="14.9" text-anchor="end" font-weight="normal" transform="translate(72.3 384.1) scale(0.975 1)">0.0010</text>
<text x="0" y="0" font-size="14.9" text-anchor="end" font-weight="normal" transform="translate(72.3 410.8) scale(0.975 1)">0.0008</text>
<text x="0" y="0" font-size="14.9" text-anchor="end" font-weight="normal" transform="translate(72.3 438) scale(0.975 1)">0.0006</text>
<text x="0" y="0" font-size="14.9" text-anchor="end" font-weight="normal" transform="translate(72.3 465.5) scale(0.975 1)">0.0004</text>
<text x="0" y="0" font-size="14.9" text-anchor="end" font-weight="normal" transform="translate(72.3 493.3) scale(0.975 1)">0.0002</text>
<text x="0" y="0" font-size="14.9" text-anchor="end" font-weight="normal" transform="translate(73.5 522.8) scale(0.975 1)">0</text>
<text x="0" y="0" font-size="19.4" text-anchor="middle" font-weight="normal" transform="translate(111.7 542.4) scale(0.945 1)">14</text>
<text x="0" y="0" font-size="19.4" text-anchor="middle" font-weight="normal" transform="translate(144 542.4) scale(0.945 1)">15</text>
<text x="0" y="0" font-size="19.4" text-anchor="middle" font-weight="normal" transform="translate(176.2 542.4) scale(0.945 1)">16</text>
<text x="0" y="0" font-size="19.4" text-anchor="middle" font-weight="normal" transform="translate(208.4 542.4) scale(0.945 1)">17</text>
<text x="0" y="0" font-size="19.4" text-anchor="middle" font-weight="normal" transform="translate(240.6 542.4) scale(0.945 1)">18</text>
<text x="0" y="0" font-size="17.7" text-anchor="middle" font-weight="normal" transform="translate(173.4 563.8) scale(1.05 1)">Day after AI</text>
<text x="0" y="0" font-size="19.4" text-anchor="middle" font-weight="normal" transform="translate(314.9 542.4) scale(0.945 1)">14</text>
<text x="0" y="0" font-size="19.4" text-anchor="middle" font-weight="normal" transform="translate(347.3 542.4) scale(0.945 1)">15</text>
<text x="0" y="0" font-size="19.4" text-anchor="middle" font-weight="normal" transform="translate(380 542.4) scale(0.945 1)">16</text>
<text x="0" y="0" font-size="19.4" text-anchor="middle" font-weight="normal" transform="translate(412 542.4) scale(0.945 1)">17</text>
<text x="0" y="0" font-size="19.4" text-anchor="middle" font-weight="normal" transform="translate(444.4 542.4) scale(0.945 1)">18</text>
<text x="0" y="0" font-size="17.7" text-anchor="middle" font-weight="normal" transform="translate(378.85 563.8) scale(1.05 1)">Day after AI</text>
<text x="0" y="0" font-size="19.4" text-anchor="middle" font-weight="normal" transform="translate(519.7 542.4) scale(0.945 1)">14</text>
<text x="0" y="0" font-size="19.4" text-anchor="middle" font-weight="normal" transform="translate(551.7 542.4) scale(0.945 1)">15</text>
<text x="0" y="0" font-size="19.4" text-anchor="middle" font-weight="normal" transform="translate(583.9 542.4) scale(0.945 1)">16</text>
<text x="0" y="0" font-size="19.4" text-anchor="middle" font-weight="normal" transform="translate(616 542.4) scale(0.945 1)">17</text>
<text x="0" y="0" font-size="19.4" text-anchor="middle" font-weight="normal" transform="translate(648.1 542.4) scale(0.945 1)">18</text>
<text x="0" y="0" font-size="17.7" text-anchor="middle" font-weight="normal" transform="translate(578.55 564.8) scale(1.05 1)">Day after AI</text>
<text x="0" y="0" font-size="16.6" text-anchor="middle" font-weight="normal" transform="translate(175.2 311) scale(0.96 1)">Pregnant</text>
<text x="379.4" y="311" font-size="16.6" text-anchor="middle" font-weight="normal">EEM</text>
<text x="584.2" y="311" font-size="16.6" text-anchor="middle" font-weight="normal">LEM</text>
<text font-size="18.7" text-anchor="middle" transform="translate(16.2 417.1) rotate(-90)">CCL8/GAPDH</text>
<text x="7.4" y="311.8" font-size="24.4" text-anchor="middle" font-weight="bold" style="stroke-width:0.2px">b</text>
<line x1="102.4" y1="599.4" x2="140" y2="599.4" stroke="#111111" stroke-width="1.9"/>
<path d="M120.8 594.6L125.3 604.4L116.3 604.4Z" fill="#111111"/>
<text x="0" y="0" font-size="17.5" text-anchor="start" font-weight="normal" transform="translate(149.8 605.5) scale(1.118 1)">B207</text>
<line x1="102.4" y1="618.2" x2="140" y2="618.2" stroke="#111111" stroke-width="1.9"/>
<path d="M120.8 614.6L124.5 618.2L120.8 621.8L117.1 618.2Z" fill="#fff" stroke="#111111" stroke-width="1.5"/>
<text x="0" y="0" font-size="17.5" text-anchor="start" font-weight="normal" transform="translate(149.8 623.6) scale(1.118 1)">B229</text>
<line x1="102.4" y1="635.9" x2="140" y2="635.9" stroke="#111111" stroke-width="1.9"/>
<rect x="116.2" y="631.6" width="9.2" height="8.6" fill="#111111"/>
<text x="0" y="0" font-size="17.5" text-anchor="start" font-weight="normal" transform="translate(149.8 641.7) scale(1.118 1)">B302</text>
<path d="M102.4 654H110.3M130.1 654H138.3" stroke="#111111" stroke-width="1.9" fill="none"/>
<ellipse cx="120.8" cy="654" rx="3.7" ry="4.05" fill="#fff" stroke="#111111" stroke-width="1.6"/>
<text x="0" y="0" font-size="17.5" text-anchor="start" font-weight="normal" transform="translate(149.8 659.7) scale(1.118 1)">B1803</text>
<line x1="102.4" y1="671.9" x2="140" y2="671.9" stroke="#111111" stroke-width="1.9"/>
<ellipse cx="120.8" cy="671.9" rx="4.35" ry="4.95" fill="#111111"/>
<text x="0" y="0" font-size="17.5" text-anchor="start" font-weight="normal" transform="translate(149.8 677.9) scale(1.118 1)">B1916</text>
<line x1="301" y1="599.4" x2="338.5" y2="599.4" stroke="#111111" stroke-width="1.9"/>
<rect x="314.8" y="595.1" width="9.2" height="8.6" fill="#111111"/>
<text x="0" y="0" font-size="17.5" text-anchor="start" font-weight="normal" transform="translate(345 605.5) scale(1.118 1)">B206</text>
<text x="0" y="0" font-size="17.5" text-anchor="start" font-weight="normal" transform="translate(403.6 605.5) scale(1.085 1)">(20 d)</text>
<line x1="301" y1="618.2" x2="338.5" y2="618.2" stroke="#111111" stroke-width="1.9"/>
<path d="M319.4 614.6L323.1 618.2L319.4 621.8L315.7 618.2Z" fill="#fff" stroke="#111111" stroke-width="1.5"/>
<text x="0" y="0" font-size="17.5" text-anchor="start" font-weight="normal" transform="translate(346.2 623.6) scale(1.118 1)">B229</text>
<text x="0" y="0" font-size="17.5" text-anchor="start" font-weight="normal" transform="translate(404.8 623.6) scale(1.085 1)">(21 d)</text>
<path d="M301 635.9H308.9M328.6 635.9H336.8" stroke="#111111" stroke-width="1.9" fill="none"/>
<ellipse cx="319.4" cy="635.9" rx="3.7" ry="4.05" fill="#fff" stroke="#111111" stroke-width="1.6"/>
<text x="0" y="0" font-size="17.5" text-anchor="start" font-weight="normal" transform="translate(345 641.7) scale(1.118 1)">B230</text>
<text x="0" y="0" font-size="17.5" text-anchor="start" font-weight="normal" transform="translate(403.6 641.7) scale(1.085 1)">(20 d)</text>
<line x1="301" y1="654" x2="338.5" y2="654" stroke="#111111" stroke-width="1.9"/>
<path d="M319.4 649.2L323.9 659L314.9 659Z" fill="#111111"/>
<text x="0" y="0" font-size="17.5" text-anchor="start" font-weight="normal" transform="translate(345 659.7) scale(1.118 1)">B1805</text>
<text x="0" y="0" font-size="17.5" text-anchor="start" font-weight="normal" transform="translate(405.2 659.7) scale(1.035 1)">(19 d)</text>
<line x1="301" y1="671.9" x2="338.5" y2="671.9" stroke="#111111" stroke-width="1.9"/>
<ellipse cx="319.4" cy="671.9" rx="4.35" ry="4.95" fill="#111111"/>
<text x="0" y="0" font-size="17.5" text-anchor="start" font-weight="normal" transform="translate(345 677.9) scale(1.118 1)">B1916</text>
<text x="0" y="0" font-size="17.5" text-anchor="start" font-weight="normal" transform="translate(405.2 677.9) scale(1.035 1)">(19 d)</text>
<line x1="502.6" y1="599.4" x2="540.2" y2="599.4" stroke="#111111" stroke-width="1.9"/>
<path d="M521 594.6L525.5 604.4L516.5 604.4Z" fill="#111111"/>
<text x="0" y="0" font-size="17.5" text-anchor="start" font-weight="normal" transform="translate(548.7 605.5) scale(1.118 1)">B207</text>
<text x="0" y="0" font-size="17.5" text-anchor="start" font-weight="normal" transform="translate(607.6 605.5) scale(1.085 1)">(35 d)</text>
<line x1="502.6" y1="618.2" x2="540.2" y2="618.2" stroke="#111111" stroke-width="1.9"/>
<path d="M521 614.6L524.7 618.2L521 621.8L517.3 618.2Z" fill="#fff" stroke="#111111" stroke-width="1.5"/>
<text x="0" y="0" font-size="17.5" text-anchor="start" font-weight="normal" transform="translate(548.7 623.6) scale(1.118 1)">B217</text>
<text x="0" y="0" font-size="17.5" text-anchor="start" font-weight="normal" transform="translate(607.6 623.6) scale(1.085 1)">(30 d)</text>
<line x1="502.6" y1="635.9" x2="540.2" y2="635.9" stroke="#111111" stroke-width="1.9"/>
<rect x="516.4" y="631.6" width="9.2" height="8.6" fill="#111111"/>
<text x="0" y="0" font-size="17.5" text-anchor="start" font-weight="normal" transform="translate(548.7 641.7) scale(1.118 1)">B302</text>
<text x="0" y="0" font-size="17.5" text-anchor="start" font-weight="normal" transform="translate(607.6 641.7) scale(1.085 1)">(25 d)</text>
<path d="M502.6 654H510.5M530.3 654H538.5" stroke="#111111" stroke-width="1.9" fill="none"/>
<ellipse cx="521" cy="654" rx="3.7" ry="4.05" fill="#fff" stroke="#111111" stroke-width="1.6"/>
<text x="0" y="0" font-size="17.5" text-anchor="start" font-weight="normal" transform="translate(548.7 659.7) scale(1.118 1)">B1803</text>
<text x="0" y="0" font-size="17.5" text-anchor="start" font-weight="normal" transform="translate(609.2 659.7) scale(1.035 1)">(30 d)</text>
<line x1="502.6" y1="671.9" x2="540.2" y2="671.9" stroke="#111111" stroke-width="1.9"/>
<ellipse cx="521" cy="671.9" rx="4.35" ry="4.95" fill="#111111"/>
<text x="0" y="0" font-size="17.5" text-anchor="start" font-weight="normal" transform="translate(548.7 677.9) scale(1.118 1)">B1411</text>
<text x="0" y="0" font-size="17.5" text-anchor="start" font-weight="normal" transform="translate(609.2 677.9) scale(1.035 1)">(33 d)</text>
</svg>
</body></html>
